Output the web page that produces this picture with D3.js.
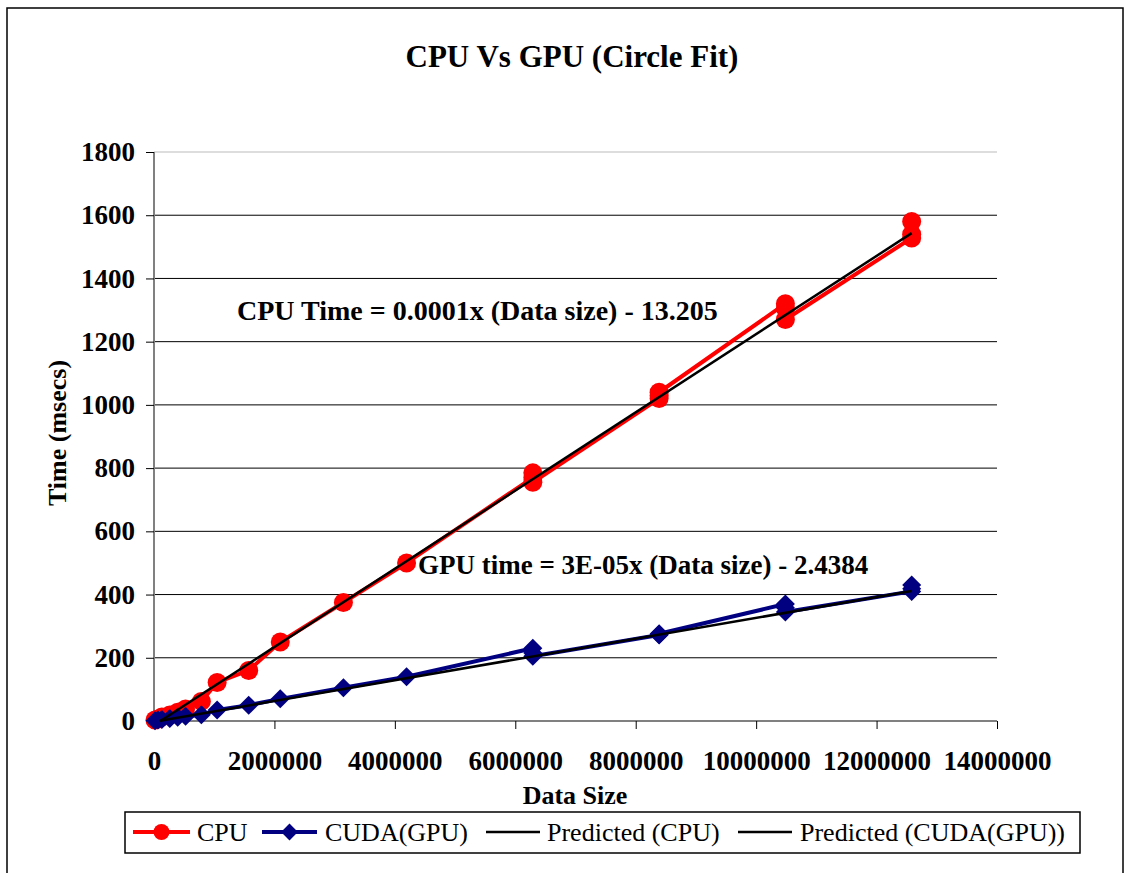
<!DOCTYPE html>
<html lang="en">
<head>
    <meta charset="UTF-8">
    <title>CPU Vs GPU (Circle Fit)</title>
    <script src="https://d3js.org/d3.v7.min.js"></script>
    <style>
        body {
            margin: 0;
            padding: 0;
            background-color: #ffffff;
            overflow: hidden;
        }

        svg {
            display: block;
            font-family: "Liberation Serif", "Times New Roman", serif;
        }

        .tick text {
            font-size: 27px;
            font-weight: bold;
            fill: #000;
        }
    </style>
</head>
<body>
    <script>
        // Data (repeated runs share a data size)
        const dataSize = [16384, 65536, 131072, 262144, 393216, 524288, 786432, 1048576,
            1572864, 2097152, 3145728, 4194304,
            6291456, 6291456, 6291456,
            8388608, 8388608, 8388608,
            10485760, 10485760, 10485760,
            12582912, 12582912, 12582912];
        const cpuTime = [3, 6, 13, 19, 28, 38, 62, 122,
            160, 250, 375, 500,
            770, 785, 755,
            1020, 1030, 1040,
            1320, 1305, 1270,
            1528, 1540, 1580];
        const gpuTime = [1, 3, 5, 8, 12, 15, 20, 35,
            50, 70, 105, 140,
            230, 215, 205,
            272, 274, 276,
            370, 358, 345,
            410, 418, 430];

        // Linear fits (slope, intercept) and the x span they cover
        const fitSlope = [0.0001237, 0.00003286];
        const fitIntercept = [-13.205, -2.4384];
        const fitRange = [100000, 12582912];

        const xTicks = [0, 2000000, 4000000, 6000000, 8000000, 10000000, 12000000, 14000000];
        const yTicks = [0, 200, 400, 600, 800, 1000, 1200, 1400, 1600, 1800];

        const width = 1130;
        const height = 873;

        const svg = d3.select("body").append("svg")
            .attr("width", width)
            .attr("height", height);

        // chart border
        svg.append("rect")
            .attr("x", 7).attr("y", 8)
            .attr("width", 1116).attr("height", 880)
            .attr("fill", "#fff")
            .attr("stroke", "#000")
            .attr("stroke-width", 1.5);

        const x = d3.scaleLinear().domain([0, 14000000]).range([154, 997]);
        const y = d3.scaleLinear().domain([0, 1800]).range([721, 152]);

        // gridlines
        svg.append("g")
            .selectAll("line")
            .data(yTicks.filter(d => d > 0))
            .enter().append("line")
            .attr("x1", x(0)).attr("x2", x(14000000))
            .attr("y1", d => y(d)).attr("y2", d => y(d))
            .attr("stroke", d => d === 1800 ? "#bbb" : "#000")
            .attr("stroke-width", 1);

        // axes
        const xAxis = svg.append("g")
            .attr("transform", `translate(0,${y(0)})`)
            .call(d3.axisBottom(x).tickValues(xTicks).tickFormat(d3.format("d")).tickSize(8).tickPadding(22));
        const yAxis = svg.append("g")
            .attr("transform", `translate(${x(0)},0)`)
            .call(d3.axisLeft(y).tickValues(yTicks).tickFormat(d3.format("d")).tickSize(8).tickPadding(11));

        [xAxis, yAxis].forEach(ax => {
            ax.attr("font-family", null).attr("font-size", null);
            ax.select(".domain").attr("stroke", "#808080").attr("stroke-width", 2);
            ax.selectAll(".tick line").attr("stroke", "#000").attr("stroke-width", 1);
        });
        xAxis.select(".domain").attr("d", `M${x(0)},0H${x(14000000)}`);
        yAxis.select(".domain").attr("d", `M0,${y(0)}V${y(1800)}`);

        const diamond = d3.symbol().type(d3.symbolDiamond2).size(230);

        function drawSeries(values, color, marker) {
            const pts = dataSize.map((d, i) => [d, values[i]]);
            svg.append("path")
                .datum(pts)
                .attr("fill", "none")
                .attr("stroke", color)
                .attr("stroke-width", 4)
                .attr("stroke-linejoin", "round")
                .attr("d", d3.line().x(d => x(d[0])).y(d => y(d[1])));
            const g = svg.append("g");
            if (marker === "circle") {
                g.selectAll("circle").data(pts).enter().append("circle")
                    .attr("cx", d => x(d[0])).attr("cy", d => y(d[1]))
                    .attr("r", 9.5).attr("fill", color);
            } else {
                g.selectAll("path").data(pts).enter().append("path")
                    .attr("transform", d => `translate(${x(d[0])},${y(d[1])})`)
                    .attr("d", diamond).attr("fill", color);
            }
        }

        drawSeries(cpuTime, "#ff0000", "circle");
        drawSeries(gpuTime, "#000080", "diamond");

        // fit lines
        fitSlope.forEach((m, i) => {
            svg.append("path")
                .datum(fitRange.map(v => [v, m * v + fitIntercept[i]]))
                .attr("fill", "none")
                .attr("stroke", "#000")
                .attr("stroke-width", 2.5)
                .attr("d", d3.line().x(d => x(d[0])).y(d => y(d[1])));
        });

        // titles
        svg.append("text")
            .attr("x", 572).attr("y", 67)
            .attr("text-anchor", "middle")
            .attr("font-size", 31).attr("font-weight", "bold")
            .text("CPU Vs GPU (Circle Fit)");

        svg.append("text")
            .attr("x", 575).attr("y", 804)
            .attr("text-anchor", "middle")
            .attr("font-size", 26).attr("font-weight", "bold")
            .text("Data Size");

        svg.append("text")
            .attr("transform", "translate(66,433) rotate(-90)")
            .attr("text-anchor", "middle")
            .attr("font-size", 26).attr("font-weight", "bold")
            .text("Time (msecs)");

        // fit equations
        svg.append("text")
            .attr("x", 237).attr("y", 320)
            .attr("font-size", 28).attr("font-weight", "bold")
            .text("CPU Time = 0.0001x (Data size) - 13.205");
        svg.append("text")
            .attr("x", 418).attr("y", 574)
            .attr("font-size", 27).attr("font-weight", "bold")
            .text("GPU time = 3E-05x (Data size) - 2.4384");

        // legend
        const legend = svg.append("g");
        legend.append("rect")
            .attr("x", 125).attr("y", 812)
            .attr("width", 955).attr("height", 41)
            .attr("fill", "#fff").attr("stroke", "#000").attr("stroke-width", 1.5);

        const legendItems = [
            { label: "CPU", color: "#ff0000", marker: "circle", x0: 133, x1: 190, tx: 197 },
            { label: "CUDA(GPU)", color: "#000080", marker: "diamond", x0: 262, x1: 317, tx: 325 },
            { label: "Predicted (CPU)", color: "#000", marker: null, x0: 486, x1: 540, tx: 547 },
            { label: "Predicted (CUDA(GPU))", color: "#000", marker: null, x0: 738, x1: 792, tx: 800 }
        ];
        const ly = 832;
        legendItems.forEach(it => {
            legend.append("line")
                .attr("x1", it.x0).attr("x2", it.x1)
                .attr("y1", ly).attr("y2", ly)
                .attr("stroke", it.color)
                .attr("stroke-width", it.marker ? 4 : 2.5);
            const cx = (it.x0 + it.x1) / 2;
            if (it.marker === "circle") {
                legend.append("circle").attr("cx", cx).attr("cy", ly).attr("r", 8).attr("fill", it.color);
            } else if (it.marker === "diamond") {
                legend.append("path").attr("transform", `translate(${cx},${ly})`)
                    .attr("d", d3.symbol().type(d3.symbolDiamond2).size(180)).attr("fill", it.color);
            }
            legend.append("text")
                .attr("x", it.tx).attr("y", ly + 9)
                .attr("font-size", 26)
                .text(it.label);
        });
    </script>
</body>
</html>
